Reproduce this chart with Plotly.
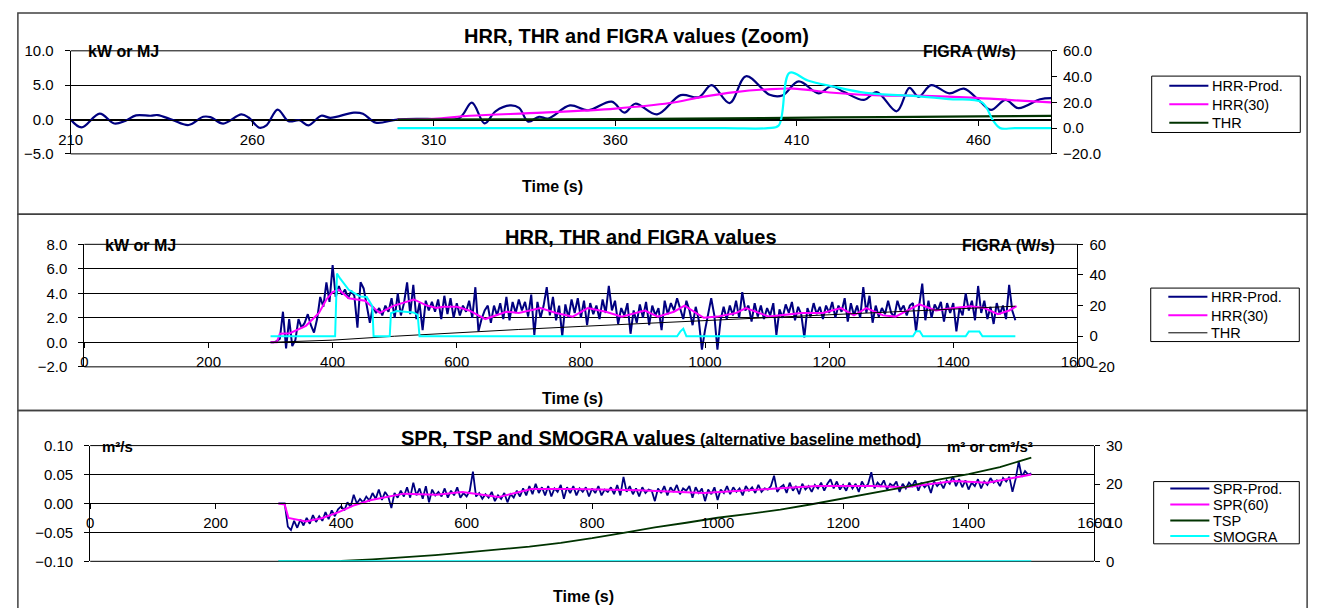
import plotly.graph_objects as go

# Layout positions are designed in window pixels (1329x616) and expressed as fractions of the figure.
W, H = 1329, 616
def px(x): return x / W
def py(y): return 1 - y / H

FONT = "Liberation Sans, Arial, sans-serif"
NAVY = "#000080"; MAGENTA = "#FF00FF"; DKGREEN = "#003300"; CYAN = "#00FFFF"

# ---------------- Panel 1 : HRR, THR and FIGRA values (Zoom) ----------------
z_hrr_t = [210, 213, 218, 222, 225, 228, 232, 234, 238, 242.5, 246.5, 248.5, 252, 257, 259, 262, 264, 267,
           270, 273, 275.5, 279, 281.5, 288, 290.5, 294, 300, 308, 317, 320.5, 324, 327, 331, 333.5, 336,
           339, 341.5, 347.5, 352.5, 359, 362.5, 365.5, 371.5, 378, 383, 386.5, 391.5, 396, 402.5, 406,
           410.5, 416, 419.5, 423, 428.5, 432, 437.5, 441, 443.5, 447, 452, 456, 460.5, 463.5, 467.5, 471,
           477, 480]
z_hrr_v = [0.0, -1.15, 0.87, -0.58, -0.2, 0.6, 0.55, 0.65, -0.05, -0.8, 0.4, 0.35, -0.6, 0.75, 0.3, -1.2, -0.8,
           1.45, -0.25, -0.1, -0.85, 0.55, 0.25, 1.0, 0.85, -0.45, 0.0, 0.1, 0.2, 2.45, -0.55, 1.2, 2.05, 1.7,
           -0.3, 0.4, 0.15, 2.05, 1.35, 2.6, 1.0, 2.3, 0.75, 3.55, 3.25, 5.0, 2.4, 6.3, 3.6, 3.5, 5.55, 3.8,
           4.85, 4.0, 2.85, 4.0, 1.2, 4.6, 3.3, 5.0, 3.8, 4.5, 2.6, 1.4, 2.85, 1.65, 2.95, 3.1]
z_hrr30_t = [300, 310, 320, 340, 360, 375, 384, 393, 402, 409, 420, 433, 445, 458, 470, 480]
z_hrr30_v = [0.0, 0.1, 0.55, 1.0, 1.6, 2.4, 3.3, 4.0, 4.4, 4.5, 3.9, 3.5, 3.45, 3.2, 2.8, 2.5]
z_thr_t = [300, 340, 380, 420, 460, 480]
z_thr_v = [0.0, 0.03, 0.12, 0.3, 0.45, 0.52]
z_figra_t = [300, 345, 390, 402, 405, 408, 413, 420, 429, 443, 452, 461, 464, 466, 470, 480]
z_figra_v = [0, 0, 0, 0, 2, 43, 37, 32.3, 27.3, 24.8, 22.5, 20, 6, 0, 0, 0]

# ---------------- Panel 2 : HRR, THR and FIGRA values ----------------
hrr_t = list(range(300, 1501, 5))
hrr_v = [
    0.0, 0.0, 0.1, 0.3, 2.5, -0.5, 1.9, -0.3, 0.2, 1.9, 1.2, 1.6, 2.3, 1.4, 0.8, 1.9, 3.7, 2.9, 4.9, 3.3,
    6.3, 3.7, 4.6, 3.9, 4.3, 3.6, 4.2, 3.8, 1.2, 4.9, 4.4, 3.0, 1.6, 2.9, 2.4, 2.8, 2.2, 3.0, 2.5, 3.6,
    2.0, 4.0, 2.2, 3.2, 4.9, 2.3, 4.7, 1.9, 3.2, 1.0, 3.4, 2.6, 3.3, 2.5, 3.5, 1.9, 3.8, 2.3, 3.6, 2.0,
    3.2, 2.2, 3.0, 2.5, 3.4, 2.0, 4.5, 0.9, 1.9, 2.6, 3.0, 1.6, 3.0, 2.2, 3.2, 1.9, 3.7, 1.8, 3.3, 2.4,
    3.5, 2.6, 3.3, 2.1, 3.9, 0.6, 3.3, 2.0, 3.0, 4.5, 2.2, 3.7, 1.8, 3.0, 0.5, 3.1, 2.0, 3.5, 2.4, 3.6,
    2.0, 3.4, 1.4, 3.2, 2.3, 3.0, 1.9, 3.5, 2.4, 4.6, 2.6, 3.4, 1.5, 2.8, 2.2, 3.2, 0.7, 2.6, 1.6, 3.1,
    2.0, 3.3, 1.4, 3.0, 2.2, 2.8, 1.0, 3.4, 2.3, 3.2, 2.6, 3.6, 2.8, 1.9, 3.4, 2.6, 1.4, 2.9, 1.8, -0.6,
    1.0, 2.4, 3.6, 2.2, -0.6, 1.8, 2.9, 1.9, 3.0, 2.2, 3.4, 2.0, 4.1, 2.6, 3.0, 1.7, 3.2, 2.1, 3.0, 1.9,
    2.8, 2.2, 3.2, 0.6, 2.7, 2.0, 3.1, 2.4, 3.3, 1.8, 2.9, 2.3, 0.4, 2.8, 2.1, 3.2, 2.3, 2.9, 1.9, 3.0,
    2.4, 3.3, 2.0, 3.0, 2.5, 3.6, 1.7, 3.2, 2.2, 3.0, 2.0, 4.5, 2.4, 3.8, 1.6, 3.0, 2.1, 2.8, 2.3, 3.4,
    2.4, 2.1, 3.4, 2.6, 3.0, 2.2, 3.0, 3.2, 0.9, 3.0, 4.8, 1.8, 3.4, 2.0, 3.1, 2.6, 3.3, 1.7, 3.2, 2.4,
    3.2, 0.9, 2.8, 2.2, 4.0, 2.6, 3.4, 1.8, 4.6, 2.4, 3.4, 1.9, 2.9, 1.5, 3.2, 2.3, 3.0, 1.9, 4.7, 2.6,
    1.8]
hrr30_t = [300, 310, 315, 331, 357, 378, 390, 400, 410, 426, 452, 476, 499, 531, 552, 567, 578, 600, 620,
           646, 680, 700, 735, 760, 787, 811, 840, 866, 903, 924, 950, 967, 998, 1020, 1050, 1066, 1103,
           1155, 1190, 1219, 1240, 1260, 1287, 1307, 1345, 1372, 1400, 1428, 1450, 1472, 1490, 1502]
hrr30_v = [0.0, 0.0, 0.7, 0.75, 1.35, 2.4, 3.5, 4.1, 4.3, 3.6, 3.4, 2.4, 3.0, 3.5, 3.0, 2.8, 2.9, 2.9, 2.6,
           1.9, 2.5, 2.4, 2.8, 2.4, 2.1, 2.8, 2.5, 2.1, 2.6, 2.1, 2.5, 3.0, 2.0, 2.1, 2.4, 2.8, 2.1,
           2.4, 2.4, 2.8, 2.2, 2.8, 2.2, 2.1, 3.1, 2.6, 2.8, 2.95, 2.8, 2.3, 2.6, 2.95]
thr_t = [300, 400, 500, 600, 700, 800, 900, 1000, 1100, 1200, 1300, 1400, 1500]
thr_v = [0.0, 0.18, 0.5, 0.8, 1.05, 1.3, 1.55, 1.8, 2.02, 2.25, 2.48, 2.72, 2.95]
figra_t = [300, 404, 407, 412, 426, 436, 444, 455, 460, 464, 466, 492, 494, 503, 530, 537, 540, 955, 960,
           965, 970, 1335, 1340, 1346, 1351, 1420, 1425, 1442, 1447, 1500]
figra_v = [0, 0, 41, 37.7, 30.3, 27.8, 26, 25.6, 21.8, 19.7, 0, 0, 15, 16.4, 15.5, 14, 0, 0, 3, 4.9,
           0, 0, 3.2, 3.2, 0, 0, 3, 3, 0, 0]

# ---------------- Panel 3 : SPR, TSP and SMOGRA values ----------------
spr_t = list(range(300, 1501, 5))
spr_v = [
    0.0, 0.0, 0.0, -0.040, -0.046, -0.030, -0.042, -0.028, -0.038, -0.025, -0.035, -0.020, -0.032, -0.022, -0.030, -0.015, -0.027, -0.012, -0.022, -0.010,
    -0.005, -0.012, 0.002, -0.006, 0.015, 0.000, 0.008, 0.002, 0.012, 0.005, 0.018, 0.008, 0.024, 0.006, 0.020, 0.012, -0.008, 0.018, 0.010, 0.022,
    0.012, 0.028, 0.010, 0.036, 0.014, 0.026, 0.008, 0.030, 0.002, 0.024, 0.014, 0.020, 0.012, 0.026, 0.010, 0.022, 0.014, 0.028, 0.010, 0.018,
    0.012, 0.022, 0.055, 0.012, 0.018, 0.008, 0.016, 0.010, 0.020, 0.004, 0.014, 0.008, 0.018, 0.002, 0.016, 0.010, 0.022, 0.012, 0.026, 0.014,
    0.030, 0.016, 0.034, 0.018, 0.028, 0.014, 0.030, 0.012, 0.026, 0.020, 0.032, 0.008, 0.028, 0.018, 0.030, 0.014, 0.026, 0.020, 0.028, 0.012,
    0.026, 0.018, 0.030, 0.014, 0.024, 0.020, 0.028, 0.016, 0.032, 0.014, 0.046, 0.020, 0.030, 0.016, 0.026, 0.012, 0.028, 0.018, 0.024, 0.022,
    0.004, 0.026, 0.018, 0.030, 0.014, 0.028, 0.020, 0.032, 0.016, 0.026, 0.022, 0.030, 0.010, 0.028, 0.018, 0.026, 0.004, 0.024, 0.016, 0.028,
    0.006, 0.024, 0.018, 0.030, 0.016, 0.028, 0.020, 0.026, 0.014, 0.030, 0.022, 0.028, 0.018, 0.032, 0.020, 0.026, 0.024, 0.030, 0.048, 0.020,
    0.028, 0.032, 0.018, 0.036, 0.022, 0.030, 0.016, 0.034, 0.024, 0.030, 0.020, 0.032, 0.026, 0.036, 0.022, 0.034, 0.042, 0.026, 0.038, 0.024,
    0.032, 0.022, 0.036, 0.026, 0.034, 0.020, 0.038, 0.028, 0.034, 0.054, 0.026, 0.036, 0.030, 0.040, 0.024, 0.034, 0.030, 0.038, 0.020, 0.034,
    0.026, 0.036, 0.030, 0.040, 0.022, 0.036, 0.028, 0.034, 0.018, 0.038, 0.030, 0.036, 0.026, 0.040, 0.034, 0.047, 0.030, 0.042, 0.028, 0.040,
    0.024, 0.036, 0.030, 0.042, 0.026, 0.038, 0.032, 0.044, 0.036, 0.040, 0.030, 0.044, 0.038, 0.046, 0.020, 0.042, 0.072, 0.046, 0.056, 0.050,
    0.052]
spr60_t = [300, 310, 316, 344, 370, 396, 421, 448, 500, 552, 593, 651, 703, 770, 874, 978, 1081, 1159, 1248,
           1300, 1377, 1430, 1460, 1500]
spr60_v = [0.0, -0.002, -0.025, -0.031, -0.025, -0.015, -0.003, 0.006, 0.017, 0.015, 0.020, 0.011, 0.025,
           0.025, 0.023, 0.018, 0.025, 0.030, 0.030, 0.028, 0.039, 0.036, 0.042, 0.050]
tsp_t = [300, 350, 400, 450, 500, 550, 600, 650, 700, 750, 800, 850, 900, 950, 1000, 1050, 1100, 1150,
         1200, 1250, 1300, 1350, 1400, 1450, 1500]
tsp_v = [0.0, 0.0, 0.1, 0.5, 1.0, 1.6, 2.3, 3.0, 3.8, 4.8, 6.0, 7.4, 8.8, 10.0, 11.3, 12.3, 13.4, 14.8,
         16.3, 17.7, 19.3, 21.1, 22.6, 24.4, 26.9]
smogra_t = [300, 1500]
smogra_v = [0, 0]

# legend entries per panel
leg1_names = ["HRR-Prod.", "HRR(30)", "THR"]
leg2_names = ["HRR-Prod.", "HRR(30)", "THR"]
leg3_names = ["SPR-Prod.", "SPR(60)", "TSP", "SMOGRA"]

# ---------------- figure ----------------
fig = go.Figure()

def line(x, y, name, color, width, xa, ya, shape="linear"):
    fig.add_trace(go.Scatter(x=x, y=y, name=name, mode="lines",
                             line=dict(color=color, width=width, shape=shape, smoothing=1.0),
                             xaxis=xa, yaxis=ya, showlegend=False, hoverinfo="skip"))

line(z_hrr_t, z_hrr_v, leg1_names[0], NAVY, 2.2, "x", "y", shape="spline")
line(z_hrr30_t, z_hrr30_v, leg1_names[1], MAGENTA, 2.2, "x", "y", shape="spline")
line(z_thr_t, z_thr_v, leg1_names[2], DKGREEN, 2.2, "x", "y", shape="spline")
line(z_figra_t, z_figra_v, "FIGRA", CYAN, 2.2, "x", "y2", shape="spline")

line(hrr_t, hrr_v, leg2_names[0], NAVY, 2.0, "x2", "y3")
line(hrr30_t, hrr30_v, leg2_names[1], MAGENTA, 2.0, "x2", "y3")
line(thr_t, thr_v, leg2_names[2], "black", 1.0, "x2", "y3")
line(figra_t, figra_v, "FIGRA", CYAN, 2.0, "x2", "y4")

line(spr_t, spr_v, leg3_names[0], NAVY, 1.8, "x3", "y5")
line(spr60_t, spr60_v, leg3_names[1], MAGENTA, 2.0, "x3", "y5")
line(tsp_t, tsp_v, leg3_names[2], DKGREEN, 1.8, "x3", "y6")
line(smogra_t, smogra_v, leg3_names[3], CYAN, 2.0, "x3", "y6")

TICKF = dict(size=15, color="black", family=FONT)

def xax(l, r, top, bot, rng, frac0, tick0, dtick, ticks="outside", labels=True, overlaying=None):
    y0, y1 = py(bot), py(top)
    d = dict(domain=[px(l), px(r)], range=rng, anchor="free", position=y0 + frac0 * (y1 - y0),
             tickmode="linear", tick0=tick0, dtick=dtick, ticks=ticks, ticklen=5, tickcolor="black",
             showline=labels, linecolor="black", linewidth=1, showgrid=False, zeroline=False,
             showticklabels=labels, tickfont=TICKF, ticklabelstandoff=1, fixedrange=True)
    if overlaying:
        d["overlaying"] = overlaying
    return d

def yax(top, bot, rng, dtick, fmt, anchor, side="left", overlaying=None, grid=True):
    d = dict(domain=[py(bot), py(top)], range=rng, tickmode="linear", tick0=rng[0], dtick=dtick,
             tickformat=fmt, anchor=anchor, side=side, ticks="outside", ticklen=5, tickcolor="black",
             showline=True, linecolor="black", linewidth=1, showgrid=grid, gridcolor="black", gridwidth=1,
             zeroline=False, tickfont=TICKF, ticklabelstandoff=(8 if side == "left" else 3),
             fixedrange=True)
    if overlaying:
        d["overlaying"] = overlaying
    return d

def txt(x, y, s, size, bold=True, anchor="center"):
    return dict(x=px(x), y=py(y), xref="paper", yref="paper", text=("<b>%s</b>" % s) if bold else s,
                showarrow=False, xanchor=anchor, yanchor="middle",
                font=dict(size=size, family=FONT, color="black"))

def hline(x0, x1, y, color, width, layer="above"):
    return dict(type="line", xref="paper", yref="paper", x0=px(x0), x1=px(x1), y0=py(y), y1=py(y),
                line=dict(color=color, width=width), layer=layer)

annotations = [
    txt(638, 28, "HRR, THR and FIGRA values (Zoom)", 20),
    txt(113, 44, "kW or MJ", 16),
    txt(979, 44, "FIGRA (W/s)", 16),
    txt(552, 183, "Time (s)", 16),
    txt(642, 234, "HRR, THR and FIGRA values", 20),
    txt(130, 243, "kW or MJ", 16),
    txt(1019, 243, "FIGRA (W/s)", 16),
    txt(572, 401, "Time (s)", 16),
    dict(x=px(663), y=py(441), xref="paper", yref="paper", showarrow=False, xanchor="center",
         yanchor="middle", font=dict(size=20, family=FONT, color="black"),
         text="<b>SPR, TSP and SMOGRA values</b><b><span style='font-size:16px'> (alternative baseline method)</span></b>"),
    txt(107, 450, "m²/s", 15),
    txt(1000, 450, "m² or cm²/s²", 15),
    txt(584, 604, "Time (s)", 16),
]

panel_line = dict(color="#404040", width=1.5)
shapes = [
    dict(type="rect", xref="paper", yref="paper", x0=px(5), x1=px(1324), y0=py(211), y1=py(4), line=panel_line),
    dict(type="rect", xref="paper", yref="paper", x0=px(5), x1=px(1324), y0=py(413), y1=py(211), line=panel_line),
    dict(type="line", xref="paper", yref="paper", x0=px(5), x1=px(1324), y0=py(413), y1=py(413), line=panel_line),
    dict(type="line", xref="paper", yref="paper", x0=px(5), x1=px(5), y0=0, y1=py(413), line=panel_line),
    dict(type="line", xref="paper", yref="paper", x0=px(1324), x1=px(1324), y0=0, y1=py(413), line=panel_line),
]
# top and bottom edges of each plot area (gridlines at the axis range ends), drawn below the data
for l, r, t, b in [(59, 1062, 43, 149), (73, 1089, 242, 368), (79, 1106, 449, 568)]:
    shapes.append(hline(l, r, t, "black", 1, layer="below"))
    shapes.append(hline(l, r, b, "black", 1, layer="below"))

# legend boxes (drawn as a box with line samples and text entries)
def legend_box(l, r, t, b, ys, names, colors, widths, lx0, lx1, tx, size):
    shapes.append(dict(type="rect", xref="paper", yref="paper", x0=px(l), x1=px(r), y0=py(b), y1=py(t),
                       line=dict(color="black", width=1), fillcolor="white", layer="above"))
    for yy, n, c, w in zip(ys, names, colors, widths):
        shapes.append(hline(lx0, lx1, yy, c, w))
        annotations.append(txt(tx, yy + 0.5, n, size, bold=False, anchor="left"))

legend_box(1165, 1317, 69, 127, [79, 98, 117], leg1_names, [NAVY, MAGENTA, DKGREEN], [2, 2, 2],
           1183, 1223, 1225, 14.5)
legend_box(1164, 1316, 287, 342, [296, 315, 333], leg2_names, [NAVY, MAGENTA, "black"], [2, 2, 1],
           1182, 1222, 1224, 14.5)
legend_box(1167, 1316, 486, 550, [493, 509.5, 526, 542], leg3_names, [NAVY, MAGENTA, DKGREEN, CYAN],
           [2, 2, 2, 2], 1184, 1224, 1226, 14.5)

fig.update_layout(
    width=W, height=H, margin=dict(l=0, r=0, t=0, b=0, pad=0),
    paper_bgcolor="white", plot_bgcolor="rgba(0,0,0,0)", showlegend=False,
    xaxis=xax(59, 1062, 43, 149, [210, 480], 1 / 3, 210, 50),
    yaxis=yax(43, 149, [-5, 10], 5, ".1f", "x"),
    yaxis2=yax(43, 149, [-20, 60], 20, ".1f", "x", side="right", overlaying="y", grid=False),
    xaxis2=xax(73, 1089, 242, 368, [0, 1600], 0.2, 0, 200),
    yaxis3=yax(242, 368, [-2, 8], 2, ".1f", "x2"),
    yaxis4=yax(242, 368, [-20, 60], 20, "d", "x2", side="right", overlaying="y3", grid=False),
    xaxis3=xax(79, 1106, 449, 568, [0, 1600], 0.5, 0, 200),
    yaxis5=yax(449, 568, [-0.1, 0.1], 0.05, ".2f", "x3"),
    yaxis6=yax(449, 568, [0, 30], 10, "d", "x3", side="right", overlaying="y5", grid=False),
    # inside tick marks so that the x-axis ticks cross the axis line
    xaxis4=xax(59, 1062, 43, 149, [210, 480], 1 / 3, 210, 50, ticks="inside", labels=False, overlaying="x"),
    xaxis5=xax(73, 1089, 242, 368, [0, 1600], 0.2, 0, 200, ticks="inside", labels=False, overlaying="x2"),
    xaxis6=xax(79, 1106, 449, 568, [0, 1600], 0.5, 0, 200, ticks="inside", labels=False, overlaying="x3"),
    annotations=annotations,
    shapes=shapes,
)

fig.write_html("out.html", config={"displayModeBar": False, "staticPlot": True},
               post_script="document.body.style.margin='0';document.body.style.overflow='hidden';")
